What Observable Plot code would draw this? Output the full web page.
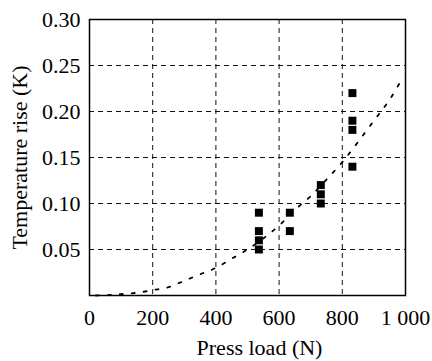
<!DOCTYPE html>
<html>
<head>
<meta charset="utf-8">
<script src="https://cdn.jsdelivr.net/npm/d3@7"></script>
<script src="https://cdn.jsdelivr.net/npm/@observablehq/plot@0.6"></script>
<style>
  html, body { margin: 0; padding: 0; background: #fff; }
  #chart svg { display: block; }
</style>
</head>
<body>
<div id="chart"></div>
<script>
// Measured points: press load (N) and temperature rise (K)
const loads = [536, 536, 536, 536, 634, 634, 732, 732, 732, 832, 832, 832, 832];
const rises = [0.09, 0.07, 0.06, 0.05, 0.09, 0.07, 0.12, 0.11, 0.10, 0.22, 0.19, 0.18, 0.14];

// Dotted trend curve
const curveX = [20, 60, 100, 150, 200, 250, 300, 350, 400, 450, 500, 550, 600, 650, 700, 750, 800, 850, 900, 950, 990];
const curveY = [0, 0.0005, 0.0015, 0.003, 0.0058, 0.009, 0.016, 0.023, 0.030, 0.040, 0.050, 0.062, 0.076, 0.093, 0.108, 0.126, 0.145, 0.167, 0.190, 0.213, 0.236];

const xTicks = [0, 200, 400, 600, 800, 1000];
const xTickLabels = ["0", "200", "400", "600", "800", "1 000"];
const yTicks = [0.05, 0.10, 0.15, 0.20, 0.25, 0.30];
const yTickLabels = ["0.05", "0.10", "0.15", "0.20", "0.25", "0.30"];
const xGrid = [200, 400, 600, 800];
const yGrid = [0.05, 0.10, 0.15, 0.20, 0.25];

const xLabel = "Press load (N)";
const yLabel = "Temperature rise (K)";

const serif = "Liberation Serif, Times New Roman, serif";

const points = loads.map((x, i) => ({x, y: rises[i]}));
const curve = curveX.map((x, i) => ({x, y: curveY[i]}));

const chart = Plot.plot({
  width: 432,
  height: 361,
  marginLeft: 89,
  marginRight: 27,
  marginTop: 19,
  marginBottom: 66,
  style: {fontFamily: serif, fontSize: "22px", color: "#000", background: "#fff"},
  x: {domain: [0, 1000]},
  y: {domain: [0, 0.30]},
  marks: [
    Plot.gridX(xGrid, {stroke: "#111", strokeOpacity: 1, strokeDasharray: "5,4", strokeWidth: 1}),
    Plot.gridY(yGrid, {stroke: "#111", strokeOpacity: 1, strokeDasharray: "5,4", strokeWidth: 1}),
    Plot.axisX(xTicks, {
      tickSize: 0, tickPadding: 14,
      tickFormat: (d) => xTickLabels[xTicks.indexOf(d)],
      label: null, fontFamily: serif, fontSize: 22
    }),
    Plot.axisY(yTicks, {
      tickSize: 0, tickPadding: 9,
      tickFormat: (d) => yTickLabels[yTicks.indexOf(d)],
      label: yLabel, labelAnchor: "center", labelArrow: "none", labelOffset: 78,
      fontFamily: serif, fontSize: 22
    }),
    Plot.text([xLabel], {frameAnchor: "bottom", dy: 59, dx: 12, fill: "#000", fontFamily: serif, fontSize: 22}),
    Plot.line(curve, {x: "x", y: "y", stroke: "#000", strokeWidth: 1.8, strokeDasharray: "3,9", curve: "monotone-x"}),
    Plot.dot(points, {x: "x", y: "y", symbol: "square", r: 4.5, fill: "#000", stroke: "none"}),
    Plot.frame({stroke: "#000", strokeWidth: 1.5})
  ]
});
document.getElementById("chart").appendChild(chart);
</script>
</body>
</html>
